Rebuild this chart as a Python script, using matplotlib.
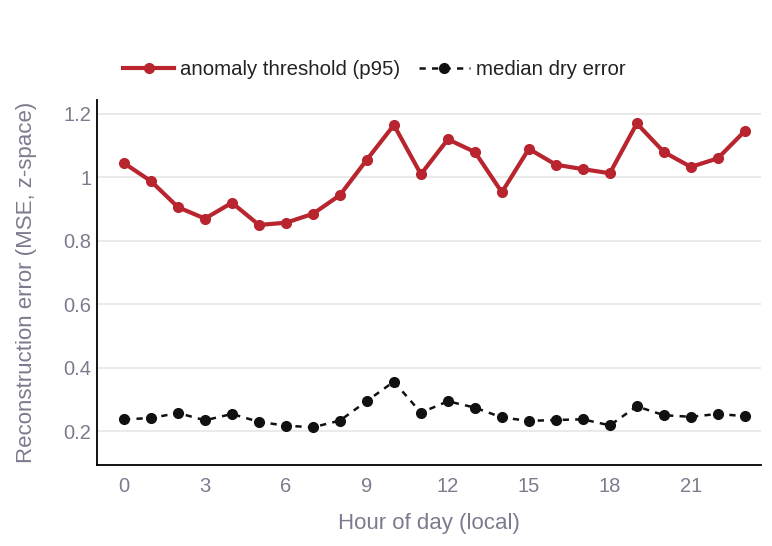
import matplotlib
matplotlib.use("Agg")
import matplotlib.pyplot as plt

hours = list(range(24))
p95 = [1.045, 0.988, 0.906, 0.870, 0.920, 0.850, 0.857, 0.885, 0.944, 1.056, 1.165, 1.010,
       1.120, 1.080, 0.953, 1.090, 1.040, 1.026, 1.013, 1.170, 1.080, 1.033, 1.060, 1.146]
median_dry = [0.237, 0.241, 0.257, 0.234, 0.254, 0.229, 0.217, 0.212, 0.233, 0.295, 0.356, 0.258,
              0.294, 0.274, 0.243, 0.232, 0.235, 0.237, 0.218, 0.278, 0.250, 0.245, 0.254, 0.247]
xticks = [0, 3, 6, 9, 12, 15, 18, 21]
yticks = [0.2, 0.4, 0.6, 0.8, 1.0, 1.2]
ytick_labels = ["0.2", "0.4", "0.6", "0.8", "1", "1.2"]

plt.rcParams['font.family'] = ['Liberation Sans', 'DejaVu Sans']
grey = '#7b7b8e'

fig = plt.figure(figsize=(7.72, 5.46), dpi=100)
ax = fig.add_axes([97/772, 1 - 465/546, (761-97)/772, (465-100)/546])

ax.plot(hours, p95, color='#b8252f', lw=3, marker='o', ms=7, label='anomaly threshold (p95)', zorder=3)
ax.plot(hours, median_dry, color='#111111', lw=1.8, ls=(0, (2.5, 2.5)), marker='o', ms=7,
        label='median dry error', zorder=3)

ax.set_xlim(-1, 23.6)
ax.set_ylim(0.093, 1.244)
ax.set_xticks(xticks)
ax.set_yticks(yticks)
ax.set_yticklabels(ytick_labels)
ax.grid(axis='y', color='#e6e6e6', lw=1.2)
ax.set_axisbelow(True)
for s in ['top', 'right']:
    ax.spines[s].set_visible(False)
for s in ['left', 'bottom']:
    ax.spines[s].set_color('black')
    ax.spines[s].set_linewidth(1.3)
ax.tick_params(axis='both', length=0, labelsize=14.5, colors=grey)
ax.tick_params(axis='y', pad=4)
ax.tick_params(axis='x', pad=9)
ax.set_xlabel('Hour of day (local)', fontsize=16, color=grey, labelpad=12)
ax.set_ylabel('Reconstruction error (MSE, z-space)', fontsize=16, color=grey, labelpad=19)

leg = ax.legend(loc='lower left', bbox_to_anchor=(0.027, 1.036), ncol=2, frameon=False,
                fontsize=14.7, handlelength=2.5, columnspacing=0.9, handletextpad=0.3, borderaxespad=0)
for t in leg.get_texts():
    t.set_color('#222222')

fig.savefig('out.png', dpi=100)
